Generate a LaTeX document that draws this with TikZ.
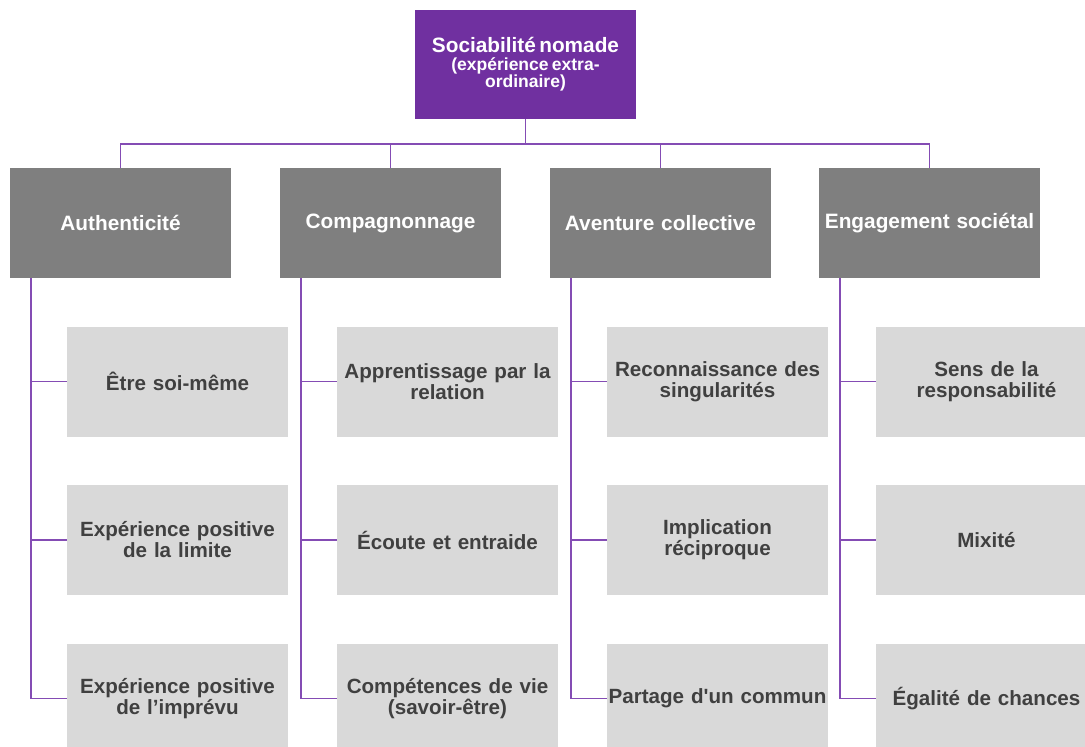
\documentclass[tikz,border=0pt]{standalone}
\usepackage{fontspec}
\newfontfamily\diagfont{Liberation Sans}
\usetikzlibrary{positioning, calc}
\definecolor{rootpurple}{RGB}{112, 48, 160}
\definecolor{headgray}{RGB}{127, 127, 127}
\definecolor{leafgray}{RGB}{217, 217, 217}
\definecolor{leaftext}{RGB}{64, 64, 64}
\definecolor{linkpurple}{RGB}{132, 76, 180}
\tikzset{
  rootbox/.style={fill=rootpurple, text=white, minimum width=221pt, minimum height=109pt,
    text width=217pt, inner xsep=2pt, align=center, font=\diagfont\bfseries},
  headbox/.style={fill=headgray, text=white, minimum width=221pt, minimum height=110pt,
    text width=218pt, inner xsep=1.5pt, align=center,
    font=\diagfont\bfseries\fontsize{20.8}{22}\selectfont},
  leafbox/.style={fill=leafgray, text=leaftext, minimum width=221pt, minimum height=110pt,
    text width=218pt, inner xsep=1.5pt, align=center,
    font=\diagfont\bfseries\fontsize{20.6}{21}\selectfont},
  link/.style={linkpurple, line width=1.7pt}
}

\begin{document}
\begin{tikzpicture}[x=1pt, y=-1pt]
  \useasboundingbox (0,0) rectangle (1085,747);

  % Racine
  \node[rootbox] (root) at (525.5,64.5)
    {\fontsize{20.8}{22}\selectfont Sociabilité nomade\par
     \fontsize{17.5}{18}\selectfont (expérience extra-\\ordinaire)};

  % Quatre dimensions
  \foreach \i/\x/\txt in {1/120.5/Authenticité, 2/390.5/Compagnonnage,
                          3/660.5/Aventure collective, 4/929.5/Engagement sociétal} {
    \node[headbox] (h\i) at (\x,223) {\txt};
    \draw[link] (root.south) -- ++(0,25) -| (h\i.north);
  }

  % Sous-dimensions
  \foreach \i/\j/\txt in {
      1/1/{Être soi-même},
      1/2/{Expérience positive\\de la limite},
      1/3/{Expérience positive\\de l’imprévu},
      2/1/{Apprentissage par la\\relation},
      2/2/{Écoute et entraide},
      2/3/{Compétences de vie\\(savoir-être)},
      3/1/{Reconnaissance des\\singularités},
      3/2/{Implication\\réciproque},
      3/3/{Partage d'un commun},
      4/1/{Sens de la\\responsabilité},
      4/2/{Mixité},
      4/3/{Égalité de chances}} {
    \node[leafbox] (c\i\j) at ($(h\i.center)+(57,158.5*\j)$) {\txt};
    \draw[link] ($(h\i.south west)+(21.5,0)$) |- (c\i\j.west);
  }
\end{tikzpicture}
\end{document}
